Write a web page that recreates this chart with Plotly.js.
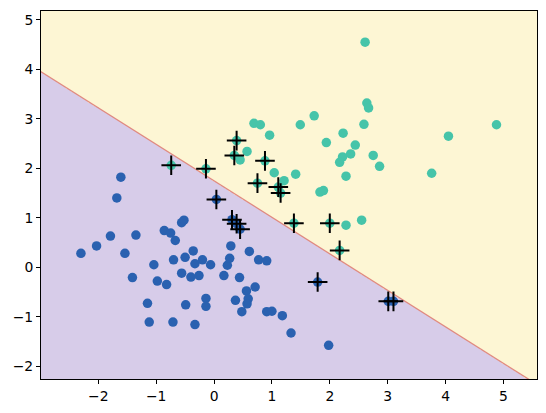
<!DOCTYPE html>
<html>
<head>
<meta charset="utf-8">
<script src="https://cdn.plot.ly/plotly-3.0.1.min.js"></script>
<style>html,body{margin:0;padding:0;background:#fff;}#chart{width:546px;height:413px;}</style>
</head>
<body>
<div id="chart"></div>
<script>
// Class 0 (blue) points
const class0X = [-2.30,-2.03,-1.79,-1.54,-1.35,-1.68,-1.61,-1.41,-1.04,-0.98,-0.86,-0.75,-0.67,-0.82,-0.70,-0.56,-0.52,-0.50,-0.56,-0.36,-0.33,-0.40,-0.26,-0.20,-0.06,0.23,0.29,0.27,0.17,0.44,0.61,0.77,0.91,0.71,0.56,0.59,0.57,0.37,0.48,0.91,1.00,1.18,1.33,1.98,-1.15,-1.12,-0.71,-0.49,-0.33,-0.14,-0.14,0.04,0.31,0.39,0.45,1.79,3.01,3.10];
const class0Y = [0.28,0.43,0.63,0.28,0.65,1.40,1.82,-0.21,0.05,-0.28,0.74,0.69,0.54,-0.35,0.15,0.90,0.95,0.20,-0.12,0.33,0.07,-0.20,-0.17,0.15,0.05,0.04,0.43,0.18,-0.17,-0.21,0.32,0.15,0.13,-0.40,-0.48,-0.64,-0.74,-0.67,-0.90,-0.90,-0.89,-0.98,-1.33,-1.58,-0.73,-1.11,-1.11,-0.76,-1.16,-0.63,-0.79,1.37,0.96,0.88,0.77,-0.30,-0.69,-0.69];
// Class 1 (teal) points
const class1X = [2.61,2.64,2.67,2.59,4.88,4.05,3.76,1.73,1.49,0.69,0.80,0.96,1.94,2.23,2.44,2.36,2.75,2.22,2.17,2.86,2.28,0.57,0.45,1.04,1.41,1.21,1.83,1.89,2.55,2.28,-0.74,-0.14,0.39,0.35,0.88,0.75,1.11,1.15,1.38,2.00,2.17];
const class1Y = [4.55,3.32,3.22,2.89,2.88,2.65,1.90,3.06,2.88,2.91,2.88,2.67,2.52,2.71,2.47,2.29,2.26,2.23,2.12,2.04,1.84,2.34,2.17,1.91,1.88,1.75,1.52,1.55,0.95,0.85,2.06,1.99,2.56,2.26,2.15,1.70,1.62,1.50,0.89,0.89,0.34];
// Support vectors
const svX = [0.04,0.31,0.39,0.45,1.79,3.01,3.10,-0.74,-0.14,0.39,0.35,0.88,0.75,1.11,1.15,1.38,2.00,2.17];
const svY = [1.37,0.96,0.88,0.77,-0.30,-0.69,-0.69,2.06,1.99,2.56,2.26,2.15,1.70,1.62,1.50,0.89,0.89,0.34];
// Linear decision function: w0*x + w1*y + b
const weights = [0.7375, 1.0];
const bias = -1.745;
// Axis settings
const xRange = [-2.99, 5.58];
const yRange = [-2.26, 5.18];
const xTicks = [-2,-1,0,1,2,3,4,5];
const yTicks = [-2,-1,0,1,2,3,4,5];

// Build decision-region grid
const step = 0.02;
const gx = [], gy = [];
for (let v = -3.1; v <= 5.7; v += step) gx.push(+v.toFixed(3));
for (let v = -2.4; v <= 5.3; v += step) gy.push(+v.toFixed(3));
const gz = gy.map(yy => gx.map(xx => (weights[0]*xx + weights[1]*yy + bias) > 0 ? 1 : 0));

const lineX = [xRange[0]-0.2, xRange[1]+0.2];
const lineY = lineX.map(xx => -(weights[0]*xx + bias)/weights[1]);

const traces = [
  {type:'heatmap', x:gx, y:gy, z:gz, zsmooth:false, showscale:false, zmin:0, zmax:1,
   colorscale:[[0,'#d7cce9'],[1,'#fdf6d4']], hoverinfo:'skip'},
  {type:'scatter', mode:'lines', x:lineX, y:lineY, line:{color:'#e08a80', width:1.3}, hoverinfo:'skip'},
  {type:'scatter', mode:'markers', x:class0X, y:class0Y, marker:{color:'#2a61b0', size:9.5, line:{width:0}}},
  {type:'scatter', mode:'markers', x:class1X, y:class1Y, marker:{color:'#46c4a9', size:9.5, line:{width:0}}},
  {type:'scatter', mode:'markers', x:svX, y:svY, marker:{symbol:'cross-thin', size:14, color:'#000', line:{color:'#000', width:2}}}
];

const axisCommon = {
  showline:true, mirror:true, linecolor:'#000', linewidth:1,
  ticks:'outside', ticklen:4, tickwidth:1, tickcolor:'#000',
  showgrid:false, zeroline:false,
  tickfont:{family:'DejaVu Sans', size:13.9, color:'#000'}
};

const layout = {
  width:546, height:413,
  margin:{l:41, r:9, t:11, b:34, pad:0},
  paper_bgcolor:'#fff', plot_bgcolor:'#fff',
  showlegend:false,
  xaxis:Object.assign({}, axisCommon, {range:xRange, tickmode:'array', tickvals:xTicks, ticktext:xTicks.map(t=>t<0?'\u2212'+Math.abs(t):String(t))}),
  yaxis:Object.assign({}, axisCommon, {range:yRange, tickmode:'array', tickvals:yTicks, ticktext:yTicks.map(t=>t<0?'\u2212'+Math.abs(t):String(t))})
};

Plotly.newPlot('chart', traces, layout, {staticPlot:true, displayModeBar:false});
</script>
</body>
</html>
